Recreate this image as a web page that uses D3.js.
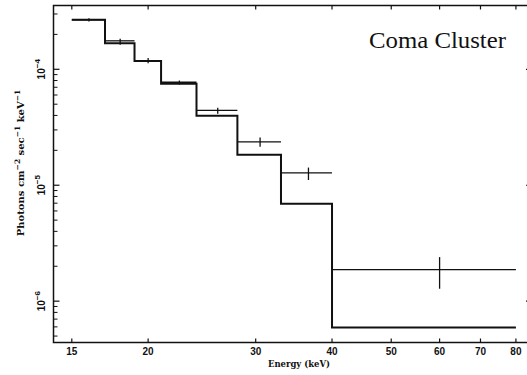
<!DOCTYPE html>
<html><head><meta charset="utf-8">
<script src="https://cdn.jsdelivr.net/npm/d3@7"></script>
<style>body{margin:0;background:#fff}svg{display:block}</style>
</head><body>
<svg id="c" width="527" height="375"></svg>
<script>
// Model histogram (bin edges and level)
const modelEdges = [15, 17, 19, 21, 24, 28, 33, 40, 80];
const modelValues = [2.67e-4, 1.675e-4, 1.18e-4, 7.5e-5, 3.97e-5, 1.83e-5, 6.93e-6, 5.94e-7];
// Data points
const dataLo = [15, 17, 19, 21, 24, 28, 33, 40];
const dataHi = [17, 19, 21, 24, 28, 33, 40, 80];
const dataE = [16, 18, 20, 22.5, 26, 30.5, 36.6, 60];
const dataVal = [2.67e-4, 1.76e-4, 1.18e-4, 7.73e-5, 4.42e-5, 2.37e-5, 1.28e-5, 1.87e-6];
const dataErrHi = [2.76e-4, 1.83e-4, 1.25e-4, 8.0e-5, 4.65e-5, 2.58e-5, 1.42e-5, 2.40e-6];
const dataErrLo = [2.58e-4, 1.63e-4, 1.13e-4, 7.39e-5, 4.13e-5, 2.15e-5, 1.11e-5, 1.28e-6];
const xTicks = [15, 20, 30, 40, 50, 60, 70, 80];
const yMajor = [1e-6, 1e-5, 1e-4];
const yExp = ["−6", "−5", "−4"];

const svg = d3.select("#c");
const L = 53.5, R = 532, T = 5.5, B = 342.5;
const x = d3.scaleLog().domain([14, 85]).range([L, R]);
const y = d3.scaleLog().domain([4.4e-7, 3.55e-4]).range([B, T]);

const ink = "#111";
const yMinor = [];
for (let d = -7; d <= -4; d++) for (let m = 2; m <= 9; m++) {
  const v = m * Math.pow(10, d);
  if (v > y.domain()[0] && v < y.domain()[1]) yMinor.push(v);
}
const g = svg.append("g");
g.selectAll(".ymin").data(yMinor).join("line")
  .attr("x1", L).attr("x2", L + 4).attr("y1", d => y(d)).attr("y2", d => y(d))
  .attr("stroke", ink).attr("stroke-width", 1);
g.selectAll(".ymaj").data(yMajor).join("line")
  .attr("x1", L).attr("x2", L + 6).attr("y1", d => y(d)).attr("y2", d => y(d))
  .attr("stroke", ink).attr("stroke-width", 1.2);
g.selectAll(".ymajr").data(yMajor).join("line")
  .attr("x1", R).attr("x2", R - 6).attr("y1", d => y(d)).attr("y2", d => y(d))
  .attr("stroke", ink).attr("stroke-width", 1.2);
g.selectAll(".xb").data(xTicks).join("line")
  .attr("x1", d => x(d)).attr("x2", d => x(d)).attr("y1", B).attr("y2", B - 4)
  .attr("stroke", ink).attr("stroke-width", 1.2);
g.selectAll(".xt").data(xTicks).join("line")
  .attr("x1", d => x(d)).attr("x2", d => x(d)).attr("y1", T).attr("y2", T + 4)
  .attr("stroke", ink).attr("stroke-width", 1.2);
g.append("rect").attr("x", L).attr("y", T).attr("width", R - L).attr("height", B - T)
  .attr("fill", "none").attr("stroke", ink).attr("stroke-width", 1.5);

g.selectAll(".xl").data(xTicks).join("text")
  .attr("x", d => x(d)).attr("y", 355)
  .attr("text-anchor", "middle")
  .attr("font-family", "'Liberation Sans', Arial, sans-serif").attr("font-weight", "bold")
  .attr("font-size", 10).attr("fill", ink).text(d => d);

yMajor.forEach((v, i) => {
  const t = g.append("text")
    .attr("transform", `translate(45,${y(v)}) rotate(-90)`)
    .attr("text-anchor", "middle")
    .attr("font-family", "'Liberation Sans', Arial, sans-serif").attr("font-weight", "bold")
    .attr("font-size", 10).attr("fill", ink);
  t.append("tspan").text("10");
  t.append("tspan").attr("dy", -5).attr("font-size", 8).text(yExp[i]);
});

g.append("text").attr("x", 299).attr("y", 367).attr("text-anchor", "middle")
  .attr("font-family", "'DejaVu Serif', serif").attr("font-weight", "bold")
  .attr("font-size", 10).attr("textLength", 62).attr("lengthAdjust", "spacingAndGlyphs")
  .attr("fill", ink).text("Energy (keV)");
const yt = g.append("text").attr("transform", "translate(24,163) rotate(-90)")
  .attr("text-anchor", "middle")
  .attr("font-family", "'DejaVu Serif', serif").attr("font-weight", "bold")
  .attr("font-size", 10).attr("fill", ink);
yt.append("tspan").text("Photons cm");
yt.append("tspan").attr("dy", -4).attr("font-size", 7.5).text("−2");
yt.append("tspan").attr("dy", 4).text(" sec");
yt.append("tspan").attr("dy", -4).attr("font-size", 7.5).text("−1");
yt.append("tspan").attr("dy", 4).text(" keV");
yt.append("tspan").attr("dy", -4).attr("font-size", 7.5).text("−1");

g.append("text").attr("x", 369).attr("y", 47.5)
  .attr("font-family", "'Liberation Serif', 'Times New Roman', serif")
  .attr("font-size", 23).attr("textLength", 137).attr("lengthAdjust", "spacingAndGlyphs")
  .attr("fill", ink).text("Coma Cluster");

const dg = svg.append("g").attr("stroke", ink).attr("stroke-width", 1.3);
dataE.forEach((e, i) => {
  dg.append("line").attr("x1", x(dataLo[i])).attr("x2", x(dataHi[i]))
    .attr("y1", y(dataVal[i])).attr("y2", y(dataVal[i]));
  dg.append("line").attr("x1", x(e)).attr("x2", x(e))
    .attr("y1", y(dataErrLo[i])).attr("y2", y(dataErrHi[i]));
});

const pts = [];
modelValues.forEach((v, i) => {
  pts.push([modelEdges[i], v]);
  pts.push([modelEdges[i + 1], v]);
});
svg.append("path").datum(pts)
  .attr("d", d3.line().x(d => x(d[0])).y(d => y(d[1])))
  .attr("fill", "none").attr("stroke", ink).attr("stroke-width", 2);
</script>
</body></html>
